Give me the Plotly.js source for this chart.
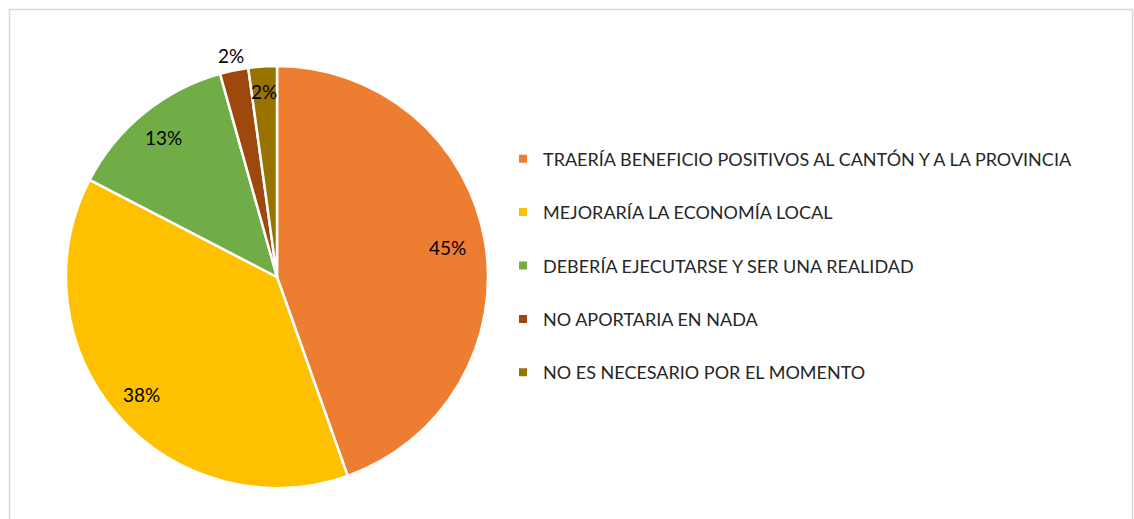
<!DOCTYPE html>
<html>
<head>
<meta charset="utf-8">
<script src="https://cdn.plot.ly/plotly-3.0.1.min.js"></script>
<style>html,body{margin:0;padding:0;background:#fff;}#chart{width:1134px;height:519px;}</style>
</head>
<body>
<div id="chart"></div>
<script>
const categories = [
  "TRAERÍA BENEFICIO POSITIVOS AL CANTÓN Y A LA PROVINCIA",
  "MEJORARÍA LA ECONOMÍA LOCAL",
  "DEBERÍA EJECUTARSE Y SER UNA REALIDAD",
  "NO APORTARIA EN NADA",
  "NO ES NECESARIO POR EL MOMENTO"
];
const counts = [41, 35, 12, 2, 2];
const colors = ["#ED7D31", "#FFC000", "#70AD47", "#9E480E", "#997300"];

const W = 1134, H = 519;
const cx = 277, cy = 277, R = 211;
const labelRadius = [0.82, 0.85, 0.85, 1.07, 0.88];
const FONT = "Lato, 'Open Sans', sans-serif";

const total = counts.reduce((a, b) => a + b, 0);
const annotations = [];
let cum = 0;
counts.forEach((v, i) => {
  const theta = 2 * Math.PI * (cum + v / 2) / total;
  cum += v;
  const px = cx + labelRadius[i] * R * Math.sin(theta);
  const py = cy - labelRadius[i] * R * Math.cos(theta);
  annotations.push({
    xref: 'paper', yref: 'paper', x: px / W, y: 1 - py / H,
    text: Math.round(v / total * 100) + '%', showarrow: false,
    xanchor: 'center', yanchor: 'middle',
    font: {family: FONT, size: 19, color: '#000'}
  });
});

const traces = [{
  type: 'pie', labels: categories, values: counts, sort: false,
  direction: 'clockwise', rotation: 0, textinfo: 'none', showlegend: false,
  marker: {colors: colors, line: {color: '#fff', width: 2.5}},
  domain: {x: [(cx - R) / W, (cx + R) / W], y: [(H - cy - R) / H, (H - cy + R) / H]}
}];
categories.forEach((c, i) => {
  traces.push({
    type: 'scatter', mode: 'markers', x: [null], y: [null], name: c,
    legendgroup: 'g' + i, showlegend: true,
    marker: {symbol: 'square', size: 8, color: colors[i]}
  });
});

const layout = {
  width: W, height: H, margin: {l: 0, r: 0, t: 0, b: 0},
  paper_bgcolor: '#fff', plot_bgcolor: '#fff',
  xaxis: {visible: false}, yaxis: {visible: false},
  showlegend: true,
  legend: {
    x: 503 / W, y: 1 - 140.5 / H, xanchor: 'left', yanchor: 'top',
    tracegroupgap: 27, font: {family: FONT, size: 18, color: '#262626'},
    bgcolor: 'rgba(0,0,0,0)'
  },
  annotations: annotations,
  shapes: [{
    type: 'rect', xref: 'paper', yref: 'paper',
    x0: 9.5 / W, x1: 1132.5 / W, y0: -0.05, y1: 1 - 9.5 / H,
    line: {color: '#d9d9d9', width: 1.5}
  }]
};
Plotly.newPlot('chart', traces, layout, {displayModeBar: false, staticPlot: true});
</script>
</body>
</html>
